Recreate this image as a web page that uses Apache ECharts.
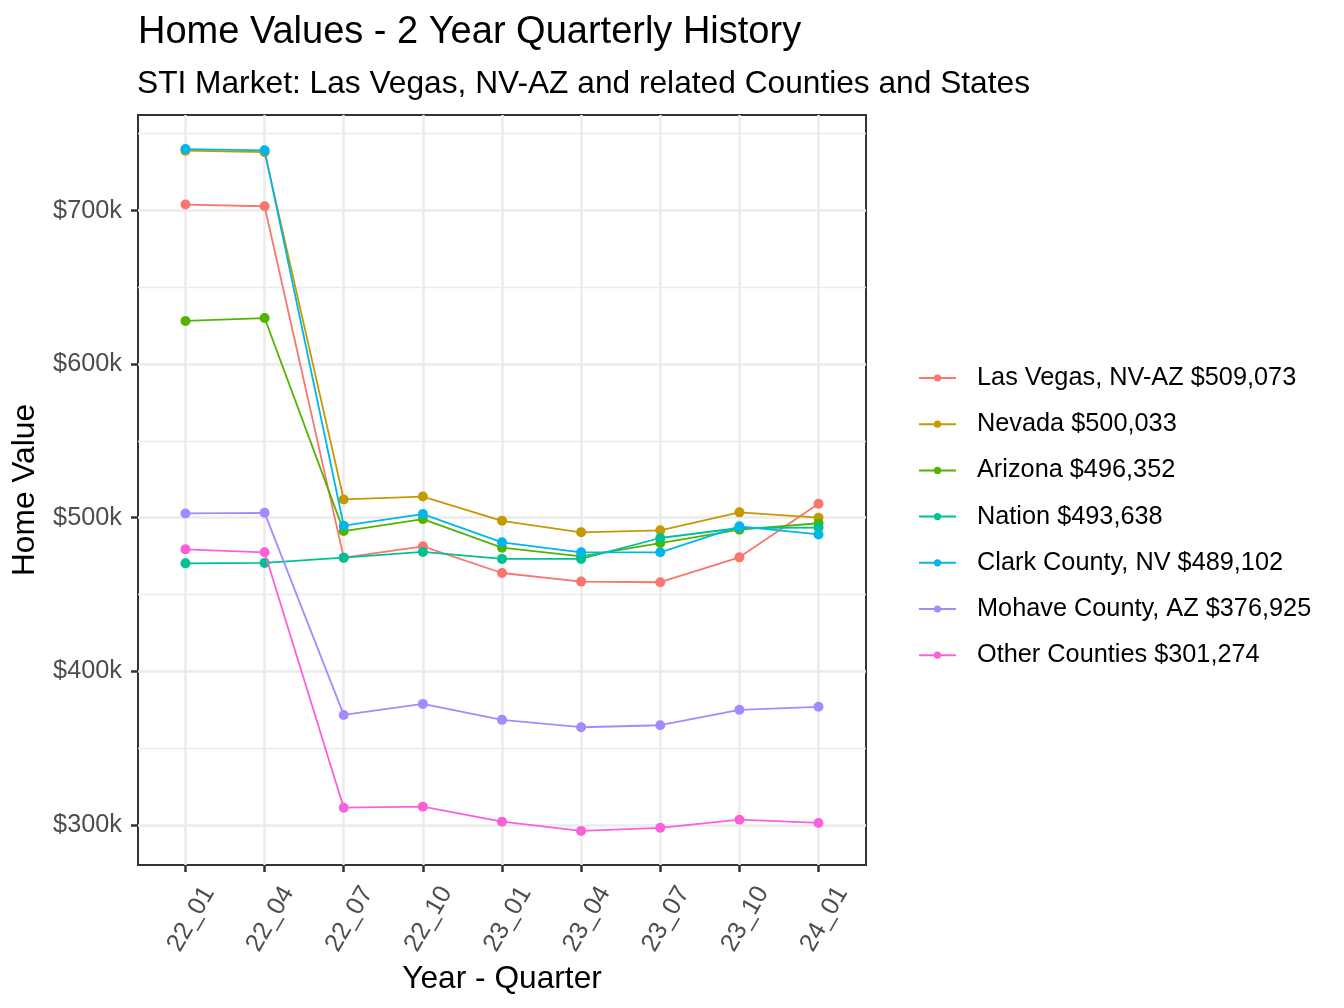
<!DOCTYPE html>
<html><head><meta charset="utf-8">
<script src="https://cdn.jsdelivr.net/npm/echarts@6/dist/echarts.min.js"></script>
<style>html,body{margin:0;padding:0;background:#fff}#c{width:1344px;height:1008px}</style>
</head><body><div id="c"></div>
<script>
const categories = ['22_01','22_04','22_07','22_10','23_01','23_04','23_07','23_10','24_01'];
const seriesNames = ['Las Vegas, NV-AZ $509,073','Nevada $500,033','Arizona $496,352','Nation $493,638','Clark County, NV $489,102','Mohave County, AZ $376,925','Other Counties $301,274'];
const lasVegas = [703.9, 702.8, 474.0, 481.4, 464.0, 458.4, 458.0, 474.2, 509.1];
const nevada   = [739.0, 738.0, 511.9, 513.8, 498.0, 490.5, 491.8, 503.5, 500.0];
const arizona  = [628.1, 630.0, 491.3, 499.1, 480.5, 474.9, 483.5, 492.2, 496.4];
const nation   = [470.3, 470.6, 474.0, 477.7, 473.2, 473.2, 486.8, 493.3, 493.6];
const clark    = [740.0, 739.2, 494.8, 502.4, 484.0, 477.5, 477.5, 494.4, 489.1];
const mohave   = [502.8, 503.2, 371.6, 378.8, 368.4, 363.6, 364.9, 374.9, 376.9];
const other    = [479.4, 477.5, 311.2, 311.9, 302.1, 296.1, 298.1, 303.4, 301.3];
const yMajor = [300000, 400000, 500000, 600000, 700000];
const yMinor = [350000, 450000, 550000, 650000, 750000];
const colors = ['#F8766D','#C49A00','#53B400','#00C094','#00B6EB','#A58AFF','#FB61D7'];
const allData = [lasVegas, nevada, arizona, nation, clark, mohave, other];
const xIdx = categories.map((c,i)=>i);

const chart = echarts.init(document.getElementById('c'), null, {renderer:'canvas'});
const font = 'Liberation Sans, Arial, sans-serif';
const option = {
  animation: false,
  backgroundColor: '#ffffff',
  color: colors,
  title: [
    {text: 'Home Values - 2 Year Quarterly History', left: 133, top: 9,
     textStyle: {fontFamily: font, fontSize: 38, fontWeight: 'normal', color: '#000'}},
    {text: 'STI Market: Las Vegas, NV-AZ and related Counties and States', left: 132, top: 63,
     textStyle: {fontFamily: font, fontSize: 31.7, fontWeight: 'normal', color: '#000'}}
  ],
  grid: {left: 138, top: 115, width: 728, height: 750, show: true, borderColor: '#333333', borderWidth: 2, backgroundColor: 'transparent'},
  legend: {
    orient: 'vertical', left: 913, top: 358, itemWidth: 37, itemHeight: 9, itemGap: 16.2,
    textStyle: {fontFamily: font, fontSize: 25.3, color: '#000', lineHeight: 30, padding: [0,0,0,16]},
    data: seriesNames
  },
  xAxis: {
    type: 'value', min: -0.6, max: 8.6,
    name: 'Year - Quarter', nameLocation: 'middle', nameGap: 95,
    nameTextStyle: {fontFamily: font, fontSize: 31.7, color: '#000'},
    axisLine: {show: false, onZero: false},
    axisTick: {show: true, length: 7, lineStyle: {color: '#333', width: 2.5}, customValues: xIdx},
    axisLabel: {customValues: xIdx, rotate: 60, margin: 10, fontFamily: font, fontSize: 25.3, color: '#4D4D4D',
      verticalAlign: 'top', lineHeight: 26, padding: [14, 0, 0, 0],
      formatter: v => categories[Math.round(v)]},
    splitLine: {show: true, lineStyle: {color: '#EBEBEB', width: 2.5}}
  },
  yAxis: [{
    type: 'value', min: 273900, max: 762200,
    name: 'Home Value', nameLocation: 'middle', nameGap: 97, nameRotate: 90,
    nameTextStyle: {fontFamily: font, fontSize: 31.7, color: '#000'},
    axisLine: {show: false, onZero: false},
    axisTick: {show: true, length: 7, lineStyle: {color: '#333', width: 2.5}, customValues: yMajor},
    axisLabel: {customValues: yMajor, margin: 16, fontFamily: font, fontSize: 25.3, color: '#4D4D4D',
      formatter: v => '$' + Math.round(v/1000) + 'k'},
    splitLine: {show: true, lineStyle: {color: '#EBEBEB', width: 2.5}}
  },{
    type: 'value', min: 273900, max: 762200, position: 'left',
    axisLine: {show: false, onZero: false},
    axisTick: {show: false, customValues: yMinor},
    axisLabel: {show: false, customValues: yMinor},
    splitLine: {show: true, lineStyle: {color: '#EBEBEB', width: 1.3}}
  }],
  series: seriesNames.map((n, k) => ({
    name: n, type: 'line', yAxisIndex: 0,
    data: allData[k].map((v, i) => [xIdx[i], v * 1000]),
    symbol: 'circle', symbolSize: 10, showSymbol: true,
    lineStyle: {width: 1.8, color: colors[k]},
    itemStyle: {color: colors[k]},
    z: 2 + k
  }))
};
chart.setOption(option);
</script></body></html>
